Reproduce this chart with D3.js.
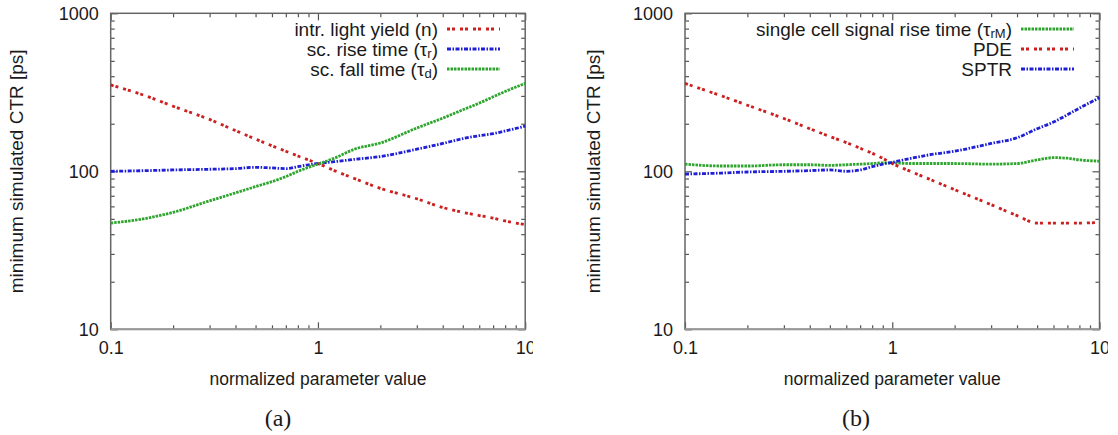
<!DOCTYPE html>
<html>
<head>
<meta charset="utf-8">
<script src="https://cdn.jsdelivr.net/npm/d3@7"></script>
<style>
    body { margin: 0; background: #fff; }
    text { font-family: "Liberation Sans", Arial, sans-serif; fill: #1a1a1a; }
</style>
</head>
<body>
<div class="chart"></div>
<script>
/* data */
const xValues = [0.1, 0.15, 0.2, 0.3, 0.4, 0.5, 0.6, 0.7, 0.8, 0.9, 1, 1.2, 1.5, 2, 3, 4, 5, 6, 7, 8, 10]

// panel (a)
const lightYield = [352, 298, 258, 213, 181, 160, 145, 134, 125, 118, 112, 101, 90, 78, 67, 59, 55, 52.5, 50.5, 48.5, 46]
const riseTime = [100, 101, 102, 103, 104, 106, 105, 104, 107, 110, 112, 115, 119, 124, 138, 150, 161, 168, 173, 180, 193]
const fallTime = [47, 50.5, 55, 65, 73, 80, 86, 92.5, 100, 106, 111, 121, 138, 151, 188, 217, 245, 270, 296, 320, 360]

// panel (b)
const cellRise = [111, 108, 108, 110, 110, 109, 110, 111, 112, 113, 113, 112, 112, 112, 111, 112, 118, 122, 121, 118, 116]
const pde = [360, 300, 262, 216, 186, 166, 152, 140, 130, 121, 112, 101, 89.5, 76.5, 61.5, 52.4, 47, 47, 47, 47, 47.5]
const sptr = [96, 97.5, 99, 100, 101, 102, 100, 102, 107, 111, 114, 120, 127, 134, 150, 163, 186, 205, 228, 251, 292]

const xTicks = [0.1, 1, 10]
const yTicks = [10, 100, 1000]
const xMinor = [0.2, 0.3, 0.4, 0.5, 0.6, 0.7, 0.8, 0.9, 2, 3, 4, 5, 6, 7, 8, 9]
const yMinor = [20, 30, 40, 50, 60, 70, 80, 90, 200, 300, 400, 500, 600, 700, 800, 900]

const xTitle = 'normalized parameter value'
const yTitle = 'minimum simulated CTR [ps]'

/* layout */
const svg = d3.select('.chart')
    .append('svg')
    .attr('width', 1118)
    .attr('height', 435)

const plot = {
    top: 13.3,
    height: 316,
    width: 414.5
}

const red = '#cc1f1f'
const blue = '#1f1fd6'
const green = '#2ea52e'
const dashRed = '3,2,3,5'
const dashBlue = '4,1.5,1.5,1.5'
const dashGreen = '2.5,1'

const panels = [
    {
        left: 110.7, clipRight: 533, caption: '(a)', captionX: 278, labelX: 16, legendRight: 438,
        series: [
            { label: [['intr. light yield (n)']], values: lightYield, color: red, dash: dashRed },
            { label: [['sc. rise time (τ'], ['r', 'sub'], [')']], values: riseTime, color: blue, dash: dashBlue },
            { label: [['sc. fall time (τ'], ['d', 'sub'], [')']], values: fallTime, color: green, dash: dashGreen }
        ]
    },
    {
        left: 685, clipRight: 1108, caption: '(b)', captionX: 856, labelX: 593, legendRight: 1012,
        series: [
            { label: [['single cell signal rise time (τ'], ['rM', 'sub'], [')']], values: cellRise, color: green, dash: dashGreen },
            { label: [['PDE']], values: pde, color: red, dash: dashRed },
            { label: [['SPTR']], values: sptr, color: blue, dash: dashBlue }
        ]
    }
]

/* draw one panel */
function drawPanel(p, idx) {
    const x = d3.scaleLog().domain([0.1, 10]).range([0, plot.width])
    const y = d3.scaleLog().domain([10, 1000]).range([plot.height, 0])

    svg.append('clipPath').attr('id', 'clip' + idx)
        .append('rect')
        .attr('x', 0).attr('y', 0)
        .attr('width', p.clipRight).attr('height', 435)

    const outer = svg.append('g').attr('clip-path', 'url(#clip' + idx + ')')
    const g = outer.append('g').attr('transform', 'translate(' + p.left + ',' + plot.top + ')')

    // ticks on all four sides, pointing inward
    const axes = [
        [d3.axisBottom(x), 'translate(0,' + plot.height + ')', xTicks, xMinor, true],
        [d3.axisTop(x), null, xTicks, xMinor, false],
        [d3.axisLeft(y), null, yTicks, yMinor, true],
        [d3.axisRight(y), 'translate(' + plot.width + ',0)', yTicks, yMinor, false]
    ]
    axes.forEach(([axis, tr, major, minor, labels]) => {
        const ga = g.append('g').attr('transform', tr)
            .call(axis.tickValues(major).tickSize(-7).tickPadding(12)
                .tickFormat(labels ? d => String(d) : ''))
        const gm = g.append('g').attr('transform', tr)
            .call(axis.tickValues(minor).tickSize(-4).tickFormat(''))
        ga.select('.domain').remove()
        gm.select('.domain').remove()
        ga.selectAll('line').attr('stroke', '#555').attr('stroke-width', 1.2)
        gm.selectAll('line').attr('stroke', '#555').attr('stroke-width', 1.2)
        ga.selectAll('text').style('font-size', '18px').attr('fill', '#1a1a1a')
    })

    // border
    g.append('rect')
        .attr('width', plot.width).attr('height', plot.height)
        .attr('fill', 'none').attr('stroke', '#666').attr('stroke-width', 1.5)
    g.append('line')
        .attr('x1', 0).attr('x2', plot.width)
        .attr('y1', plot.height).attr('y2', plot.height)
        .attr('stroke', '#999').attr('stroke-width', 2)

    // curves
    const line = d3.line()
        .x((d, i) => x(xValues[i]))
        .y(d => y(d))
        .curve(d3.curveMonotoneX)

    p.series.forEach(s => {
        g.append('path')
            .datum(s.values)
            .attr('d', line)
            .attr('fill', 'none')
            .attr('stroke', s.color)
            .attr('stroke-width', 2.8)
            .attr('stroke-dasharray', s.dash)
    })

    // legend
    p.series.forEach((s, i) => {
        const cy = 29 + i * 20
        const t = svg.append('text')
            .attr('x', p.legendRight).attr('y', cy + 6.5)
            .attr('text-anchor', 'end')
            .style('font-size', '19px')
        s.label.forEach(([str, kind]) => {
            const ts = t.append('tspan').text(str)
            if (kind === 'sub') ts.attr('baseline-shift', '-15%').style('font-size', '13px')
        })
        svg.append('line')
            .attr('x1', p.legendRight + 9).attr('x2', p.legendRight + 62)
            .attr('y1', cy).attr('y2', cy)
            .attr('stroke', s.color)
            .attr('stroke-width', 2.8)
            .attr('stroke-dasharray', s.dash)
    })

    // axis titles
    svg.append('text')
        .attr('x', p.left + plot.width / 2).attr('y', 385)
        .attr('text-anchor', 'middle')
        .style('font-size', '17.5px')
        .text(xTitle)

    svg.append('text')
        .attr('transform', 'translate(' + p.labelX + ',' + (plot.top + plot.height / 2) + ') rotate(-90)')
        .attr('text-anchor', 'middle')
        .attr('dy', '0.35em')
        .style('font-size', '19px')
        .text(yTitle)

    // caption
    svg.append('text')
        .attr('x', p.captionX).attr('y', 426)
        .attr('text-anchor', 'middle')
        .style('font-family', '"Liberation Serif", "Times New Roman", serif')
        .style('font-size', '24px')
        .text(p.caption)
}

panels.forEach(drawPanel)
</script>
</body>
</html>
